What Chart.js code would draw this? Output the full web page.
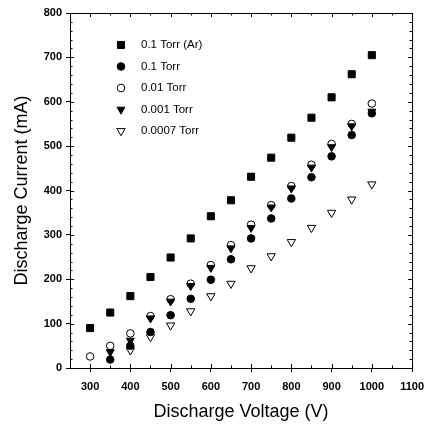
<!DOCTYPE html>
<html><head><meta charset="utf-8">
<script src="https://cdn.jsdelivr.net/npm/chart.js@4/dist/chart.umd.min.js"></script>
<style>html,body{margin:0;padding:0;background:#fff;}#wrap{width:432px;height:429px;position:relative;}</style>
</head><body><div id="wrap"><canvas id="c"></canvas></div>
<script>
const voltages = [300,350,400,450,500,550,600,650,700,750,800,850,900,950,1000];
const currentAr01Torr = [90,125,162,205,249,292,342,378,431,474,519,564,610,662,705];
const current01Torr = [null,19,50,81,119,156,199,245,292,337,382,430,477,525,574];
const current001Torr = [26,50,78,117,155,190,232,277,323,367,410,458,505,550,596];
const current0001Torr = [null,36,62,112,150,185,226,270,316,362,405,452,498,545,578];
const current00007Torr = [null,null,40,70,96,128,162,190,225,252,284,316,350,380,414];
const seriesLabels = ['0.1 Torr (Ar)','0.1 Torr','0.01 Torr','0.001 Torr','0.0007 Torr'];
const xTickValues = [300,400,500,600,700,800,900,1000,1100];
const yTickValues = [0,100,200,300,400,500,600,700,800];

function pts(arr){ return voltages.map((v,i)=>({x:v,y:arr[i]})).filter(p=>p.y!==null); }

const styles = [
  {pointStyle:'rect', radius:5, rotation:0, fill:'#000', order:0},
  {pointStyle:'circle', radius:3.8, rotation:0, fill:'#000', order:1},
  {pointStyle:'circle', radius:3.8, rotation:0, fill:'#fff', order:3},
  {pointStyle:'triangle', radius:4.6, rotation:180, fill:'#000', order:2},
  {pointStyle:'triangle', radius:4.8, rotation:180, fill:'#fff', order:4}
];
const seriesData = [currentAr01Torr,current01Torr,current001Torr,current0001Torr,current00007Torr];

const datasets = seriesData.map((arr,i)=>({
  label: seriesLabels[i],
  data: pts(arr),
  showLine:false,
  pointStyle: styles[i].pointStyle,
  pointRadius: styles[i].radius,
  pointRotation: styles[i].rotation,
  pointBackgroundColor: styles[i].fill,
  pointBorderColor:'#000',
  pointBorderWidth:1,
  order: styles[i].order
}));

const FONT = "'Liberation Sans', Arial, sans-serif";

const framePlugin = {
  id:'frame',
  afterDraw(chart){
    const {ctx, chartArea:a, scales:{x,y}} = chart;
    ctx.save();
    ctx.strokeStyle='#000'; ctx.lineWidth=1;
    ctx.strokeRect(a.left+0.5, a.top+0.5, a.right-a.left, a.bottom-a.top);
    ctx.beginPath();
    for(let v=250; v<=1100; v+=50){
      const px = Math.round(x.getPixelForValue(v))+0.5;
      const len = (v%100===0)?4:2.5;
      ctx.moveTo(px,a.bottom); ctx.lineTo(px,a.bottom-len);
      ctx.moveTo(px,a.top); ctx.lineTo(px,a.top+len);
    }
    for(let v=0; v<=800; v+=20){
      const py = Math.round(y.getPixelForValue(v))+0.5;
      const len = (v%100===0)?4:2.5;
      ctx.moveTo(a.left,py); ctx.lineTo(a.left+len,py);
      ctx.moveTo(a.right,py); ctx.lineTo(a.right-len,py);
    }
    ctx.stroke();
    const lx = 121, ly0 = 45, dy = 21.5, tx = 141;
    ctx.font = "11.5px " + FONT;
    ctx.textBaseline='middle'; ctx.textAlign='left';
    chart.data.datasets.forEach((ds,i)=>{
      const yy = ly0 + i*dy;
      ctx.fillStyle = ds.pointBackgroundColor; ctx.strokeStyle='#000'; ctx.lineWidth=1;
      Chart.helpers.drawPoint(ctx, {pointStyle:ds.pointStyle, radius:ds.pointRadius, rotation:ds.pointRotation, borderWidth:1}, lx, yy);
      ctx.fillStyle='#000';
      ctx.fillText(ds.label, tx, yy);
    });
    ctx.restore();
  }
};

new Chart(document.getElementById('c'), {
  type:'scatter',
  data:{datasets},
  options:{
    responsive:true, maintainAspectRatio:false, animation:false,
    layout:{padding:{left:0,right:16,top:13,bottom:0}},
    plugins:{legend:{display:false}, tooltip:{enabled:false}},
    scales:{
      x:{
        type:'linear', min:250, max:1100,
        afterBuildTicks(s){ s.ticks = xTickValues.map(v=>({value:v})); },
        afterFit(s){ s.height = 61; },
        grid:{display:true, drawOnChartArea:false, drawTicks:true, tickLength:4, tickColor:'#000'},
        border:{display:true, color:'#000', width:1},
        ticks:{color:'#000', padding:8, maxRotation:0, callback:v=>String(v), font:{family:FONT, size:11, weight:'bold'}},
        title:{display:true, text:'Discharge Voltage (V)', color:'#000', padding:{top:0,bottom:6}, font:{family:FONT, size:18}}
      },
      y:{
        type:'linear', min:0, max:800,
        afterBuildTicks(s){ s.ticks = yTickValues.map(v=>({value:v})); },
        afterFit(s){ s.width = 70; },
        grid:{display:true, drawOnChartArea:false, drawTicks:true, tickLength:4, tickColor:'#000'},
        border:{display:true, color:'#000', width:1},
        ticks:{color:'#000', padding:4, callback:v=>String(v), font:{family:FONT, size:11, weight:'bold'}},
        title:{display:true, text:'Discharge Current (mA)', color:'#000', padding:{top:11,bottom:0}, font:{family:FONT, size:18}}
      }
    }
  },
  plugins:[framePlugin]
});
</script></body></html>
